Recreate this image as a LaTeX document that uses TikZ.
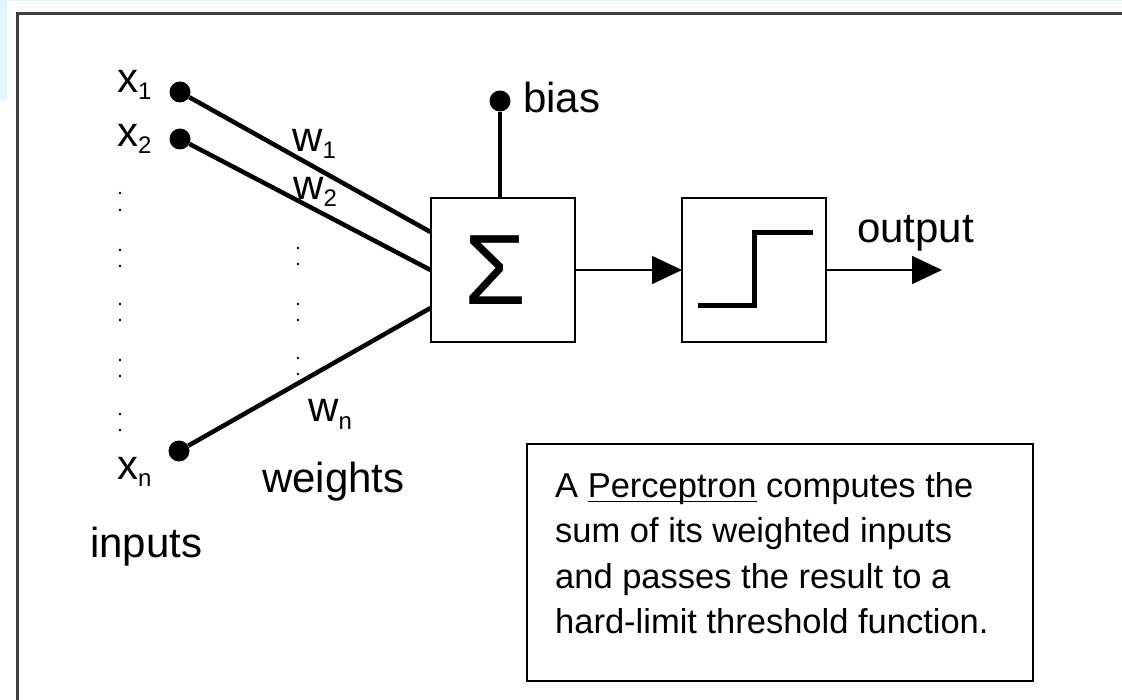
\documentclass[tikz,border=0pt]{standalone}
\usepackage{fontspec}
\setmainfont{Liberation Sans}
\usepackage{xcolor}
\definecolor{pcframe}{RGB}{64,64,64}
\definecolor{pcsky}{RGB}{224,246,255}
\usetikzlibrary{arrows.meta}

\newcommand{\lowidx}[1]{\raisebox{-7pt}{\fontsize{24}{24}\selectfont #1}}
\newsavebox{\ulbox}
\newcommand{\ulword}[1]{\sbox{\ulbox}{#1}\rlap{\rule[-5pt]{\wd\ulbox}{1.5pt}}\usebox{\ulbox}}

\begin{document}
\begin{tikzpicture}[x=1pt, y=-1pt,
    lbl/.style={font=\fontsize{42}{48}\selectfont, inner sep=0pt, anchor=base west},
    dot/.style={circle, fill=black, inner sep=0pt, minimum size=21pt},
    wire/.style={line width=4.5pt},
    unit/.style={draw, line width=2pt, minimum size=144pt, inner sep=0pt, outer sep=0pt},
    sig/.style={line width=1.6pt, -{Triangle[length=30pt, width=28pt]}}]
      \useasboundingbox (0,0) rectangle (1122,700);
      % window edge and frame
      \fill[pcsky] (0,0) rectangle (1122,1.5);
      \fill[pcsky] (0,0) rectangle (7,100);
      \draw[pcframe, line width=3pt] (17,700) -- (17,14) -- (1122,14);
      % inputs
      \node[dot] (x1) at (180,92) {};
      \node[dot] (x2) at (180,139) {};
      \node[dot] (xn) at (179,451) {};
      \node[lbl] (lx1) at (117,93) {x\lowidx{1}};
      \node[lbl] (lx2) at (117,147) {x\lowidx{2}};
      \node[lbl] (lxn) at (117,479) {x\lowidx{n}};
      \foreach \y in {193,210,250,266,304,320,360,376,414,430}
        \fill (120,\y) circle (1.3pt);
      \foreach \y in {248,264,304,320,358,374}
        \fill (298,\y) circle (1.3pt);
      % summing unit and threshold unit
      \node[unit, font=\fontsize{100}{100}\selectfont] (sum) at (502.5,270) {\hspace*{-14pt}Σ};
      \node[unit] (step) at (754,270) {};
      \draw[line width=5pt] (698,306) -- (754,306) -- (754,233) -- (813,233);
      \coordinate (out) at (942,270);
      % weighted connections
      \draw[wire] (x1) -- (sum.west |- 0,232);
      \draw[wire] (x2) -- (sum.west |- 0,270);
      \draw[wire] (xn) -- (sum.west |- 0,308);
      \node[lbl] (lw1) at (292,152) {w\lowidx{1}};
      \node[lbl] (lw2) at (293,200) {w\lowidx{2}};
      \node[lbl] (lwn) at (308,422) {w\lowidx{n}};
      % bias
      \node[dot] (bias) at (500,101) {};
      \draw[wire] (bias) -- (bias |- sum.north);
      \node[lbl] (lbias) at (523,113) {bias};
      % signal flow
      \draw[sig] (sum) -- (step);
      \draw[sig] (step) -- (out);
      \node[lbl] (output) at (857,243) {output};
      \node[lbl] (weights) at (262,492) {weights};
      \node[lbl] (inputs) at (90,557) {inputs};
      % note
      \node[draw, line width=1.5pt, minimum width=506pt, minimum height=237pt, inner sep=0pt] (note) at (780,562.5) {};
      \node[font=\fontsize{34.5}{45.5}\selectfont, align=left, anchor=north west, inner sep=0pt] (notetext) at (555,472)
        {A \ulword{Perceptron} computes the\\sum of its weighted inputs\\and passes the result to a\\hard-limit threshold function.};
\end{tikzpicture}
\end{document}
